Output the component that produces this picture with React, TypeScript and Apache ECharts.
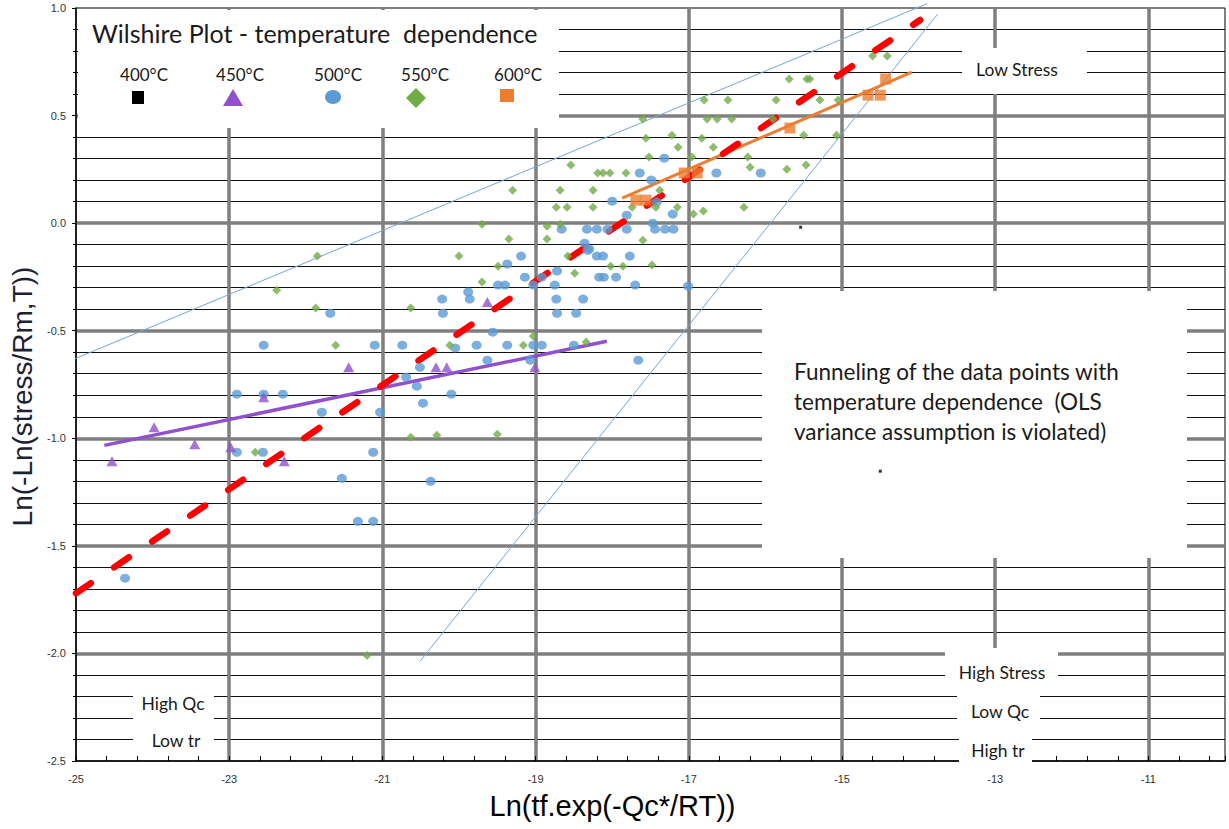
import React, { useEffect, useRef } from "react";
import * as echarts from "echarts";

// ---------- data ----------
const xTickValues = [-25, -23, -21, -19, -17, -15, -13, -11];
const yTickValues = [-2.5, -2.0, -1.5, -1.0, -0.5, 0.0, 0.5, 1.0];
const tempLabels = ["400°C", "450°C", "500°C", "550°C", "600°C"];

const data400: number[][] = [
  [-15.54, -0.019], [-14.5, -1.153],
];

const data450: number[][] = [
  [-24.53, -1.107], [-23.98, -0.949], [-23.45, -1.028], [-22.98, -1.042], [-22.55, -0.809],
  [-22.28, -1.107], [-21.44, -0.67], [-20.3, -0.67], [-20.16, -0.67], [-19.63, -0.367], [-19.01, -0.67],
];

const data500: number[][] = [
  [-24.36, -1.65], [-22.55, -0.567], [-22.9, -0.795], [-22.55, -0.795], [-22.3, -0.795],
  [-21.79, -0.879], [-21.68, -0.419], [-21.1, -0.567], [-20.74, -0.567], [-21.03, -0.879],
  [-20.69, -0.716], [-20.55, -0.758], [-20.51, -0.67], [-22.9, -1.065], [-22.56, -1.065],
  [-21.12, -1.065], [-21.53, -1.186], [-21.32, -1.386], [-21.12, -1.386], [-20.47, -0.837],
  [-20.1, -0.795], [-20.05, -0.58], [-20.37, -1.2], [-19.77, -0.567], [-19.63, -0.637],
  [-19.56, -0.507], [-19.37, -0.567], [-19.07, -0.637], [-19.03, -0.567], [-18.92, -0.567],
  [-18.5, -0.567], [-17.66, -0.637], [-17.01, -0.293], [-20.22, -0.353], [-20.21, -0.419],
  [-19.88, -0.32], [-19.86, -0.353], [-19.49, -0.288], [-19.4, -0.288], [-19.37, -0.19],
  [-19.19, -0.153], [-19.14, -0.251], [-19.03, -0.288], [-18.92, -0.251], [-18.75, -0.288],
  [-18.72, -0.223], [-18.73, -0.353], [-18.72, -0.419], [-18.47, -0.419], [-18.38, -0.353],
  [-18.32, -0.126], [-18.2, -0.153], [-18.12, -0.153], [-18.17, -0.251], [-18.11, -0.251],
  [-17.95, -0.251], [-17.77, -0.153], [-17.7, -0.288], [-18.66, -0.028], [-18.36, -0.093],
  [-18.33, -0.028], [-18.3, -0.12], [-18.2, -0.028], [-18.06, -0.028], [-18.0, 0.102],
  [-17.81, 0.037], [-17.81, -0.028], [-17.64, 0.233], [-17.49, 0.2], [-17.47, 0.0],
  [-17.44, -0.028], [-17.42, 0.098], [-17.31, -0.028], [-17.21, 0.042], [-17.32, 0.302],
  [-16.64, 0.233], [-16.06, 0.233], [-17.2, -0.028],
];

const data550: number[][] = [
  [-21.85, -0.153], [-22.38, -0.312], [-21.87, -0.395], [-21.61, -0.567], [-20.63, -0.395],
  [-22.66, -1.065], [-20.63, -0.995], [-20.12, -0.567], [-20.29, -0.986], [-20.0, -0.153],
  [-19.49, -0.2], [-19.7, -0.274], [-19.16, -0.567], [-19.03, -0.526], [-18.49, -0.233],
  [-18.58, -0.153], [-18.34, -0.553], [-18.02, -0.2], [-17.86, -0.2], [-17.48, -0.195],
  [-19.5, -0.981], [-19.7, -0.005], [-19.35, -0.074], [-19.3, 0.153], [-18.85, -0.014],
  [-18.85, -0.074], [-18.73, 0.074], [-18.68, 0.153], [-18.68, -0.005], [-18.59, 0.074],
  [-18.54, 0.27], [-18.25, 0.153], [-18.25, 0.074], [-18.19, 0.233], [-18.12, 0.233],
  [-18.03, 0.233], [-17.82, 0.233], [-17.6, 0.484], [-17.56, 0.395], [-17.52, 0.307],
  [-17.22, 0.409], [-17.14, 0.353], [-17.38, 0.153], [-17.74, 0.074], [-17.43, 0.074],
  [-17.6, -0.079], [-17.15, 0.074], [-16.96, 0.307], [-16.94, 0.042], [-16.81, 0.056],
  [-16.83, 0.395], [-16.8, 0.572], [-16.76, 0.484], [-16.68, 0.353], [-16.63, 0.484],
  [-16.49, 0.572], [-16.44, 0.484], [-16.28, 0.074], [-16.23, 0.307], [-16.2, 0.26],
  [-15.86, 0.572], [-15.9, 0.484], [-15.72, 0.251], [-15.69, 0.67], [-15.5, 0.409],
  [-15.47, 0.27], [-15.46, 0.67], [-15.42, 0.67], [-15.29, 0.572], [-15.05, 0.572],
  [-15.07, 0.409], [-14.6, 0.777], [-14.41, 0.777], [-21.2, -2.01],
];

const data600: number[][] = [
  [-17.69, 0.107], [-17.56, 0.107], [-17.06, 0.233], [-16.89, 0.233], [-15.68, 0.442],
  [-14.66, 0.595], [-14.5, 0.595], [-14.43, 0.67],
];

const overallFit: number[][] = [[-25, -1.72], [-13.98, 0.944]];
const fit450: number[][] = [[-24.63, -1.033], [-18.07, -0.549]];
const fit600: number[][] = [[-17.87, 0.116], [-14.09, 0.702]];
const funnelUpper: number[][] = [[-25.47, -0.698], [-13.89, 1.02]];
const funnelLower: number[][] = [[-20.51, -2.037], [-13.75, 0.972]];

// ---------- styles ----------
const C400 = "#000000";
const C450 = "#9150CC";
const C500 = "#5B9BD5";
const C550 = "#70AD47";
const C600 = "#ED7D31";
const GRAY = "#7f7f7f";
const NOTE_FONT = "Lato, 'Open Sans', sans-serif";
const AXIS_FONT = "'Liberation Sans', Arial, sans-serif";

function txt(x: number, y: number, text: string, size: number, align = "center") {
  return {
    type: "text",
    x,
    y,
    z: 3,
    style: {
      text,
      fill: "#1a1a1a",
      font: `${size}px ${NOTE_FONT}`,
      align,
      verticalAlign: "middle",
      textAlign: align,
      textVerticalAlign: "middle",
    },
  };
}

function whiteRect(x: number, y: number, w: number, h: number) {
  return {
    type: "rect",
    z: 1.5,
    shape: { x, y, width: w, height: h },
    style: { fill: "#ffffff" },
    silent: true,
  };
}

export default function App() {
  const ref = useRef<HTMLDivElement>(null);

  useEffect(() => {
    if (!ref.current) return;
    const chart = echarts.init(ref.current, null, { renderer: "svg" });

    const legendX = [138, 233, 333, 416, 507];
    const labelX = [144, 240, 338, 425, 518];

    const graphic: any[] = [
      whiteRect(78, 10, 481, 118),
      whiteRect(962, 48, 125, 46),
      whiteRect(762, 291, 425, 267),
      whiteRect(945, 648, 113, 38),
      whiteRect(957, 686, 83, 50),
      whiteRect(959, 736, 73, 30),
      whiteRect(133, 687, 81, 61),
      txt(92, 33, "Wilshire Plot - temperature  dependence", 25, "left"),
      ...tempLabels.map((t, i) => txt(labelX[i], 74, t, 17)),
      { type: "rect", z: 3, shape: { x: legendX[0] - 6, y: 91, width: 12, height: 13 }, style: { fill: C400 } },
      { type: "polygon", z: 3, shape: { points: [[legendX[1], 89], [legendX[1] + 10, 106], [legendX[1] - 10, 106]] }, style: { fill: C450 } },
      { type: "ellipse", z: 3, shape: { cx: legendX[2], cy: 97, rx: 8, ry: 7 }, style: { fill: C500 } },
      { type: "polygon", z: 3, shape: { points: [[legendX[3], 88], [legendX[3] + 10, 98], [legendX[3], 108], [legendX[3] - 10, 98]] }, style: { fill: C550 } },
      { type: "rect", z: 3, shape: { x: legendX[4] - 7, y: 89, width: 14, height: 13 }, style: { fill: C600 } },
      txt(1017, 69, "Low Stress", 17.5),
      txt(794, 371, "Funneling of the data points with", 22.5, "left"),
      txt(794, 401, "temperature dependence  (OLS", 22.5, "left"),
      txt(794, 431, "variance assumption is violated)", 22.5, "left"),
      txt(1002, 672, "High Stress", 17.5),
      txt(1000, 711, "Low Qc", 17.5),
      txt(998, 750, "High tr", 17.5),
      txt(173, 703, "High Qc", 17.5),
      txt(176, 740, "Low tr", 17.5),
    ];

    const lineSeries = (name: string, data: number[][], color: string, width: number, type: any = "solid", cap = "butt") => ({
      name,
      type: "line",
      data,
      symbol: "none",
      clip: false,
      z: 4,
      lineStyle: { color, width, type, cap },
      silent: true,
    });

    const option: any = {
      animation: false,
      backgroundColor: "#ffffff",
      grid: { left: 76, top: 8, right: 4, bottom: 68, show: true, borderColor: "#000", borderWidth: 1, backgroundColor: "transparent" },
      xAxis: {
        type: "value",
        min: -25,
        max: -10,
        interval: 2,
        z: 1,
        name: "Ln(tf.exp(-Qc*/RT))",
        nameLocation: "middle",
        nameGap: 30,
        nameTextStyle: { fontSize: 29, fontFamily: AXIS_FONT, color: "#000", padding: [0, 76, 0, 0] },
        axisLine: { show: true, onZero: false, lineStyle: { color: "#000", width: 1.5 } },
        axisTick: { show: true, inside: true, length: 5, lineStyle: { color: "#000" } },
        minorTick: { show: true, splitNumber: 5, length: 5, lineStyle: { color: "#000" } },
        axisLabel: {
          fontSize: 11,
          fontFamily: AXIS_FONT,
          color: "#333",
          margin: 12,
          showMaxLabel: false,
          formatter: (v: number) => (xTickValues.includes(v) ? String(v) : ""),
        },
        splitLine: { show: true, showMinLine: false, showMaxLine: false, lineStyle: { color: GRAY, width: 3.5 } },
      },
      yAxis: {
        type: "value",
        min: -2.5,
        max: 1.0,
        interval: 0.5,
        name: "Ln(-Ln(stress/Rm,T))",
        nameLocation: "middle",
        nameGap: 32,
        nameRotate: 90,
        nameTextStyle: { fontSize: 28, fontFamily: AXIS_FONT, color: "#1b2233", padding: [0, 24, 0, 0] },
        axisLine: { show: true, onZero: false, lineStyle: { color: "#000", width: 1.5 } },
        axisTick: { show: true, length: 4, lineStyle: { color: "#000" } },
        minorTick: { show: true, splitNumber: 5, length: 3, lineStyle: { color: "#000" } },
        axisLabel: {
          fontSize: 11,
          fontFamily: AXIS_FONT,
          color: "#333",
          margin: 10,
          formatter: (v: number) => (yTickValues.some((t) => Math.abs(t - v) < 1e-9) ? v.toFixed(1) : ""),
        },
        splitLine: { show: true, showMinLine: false, showMaxLine: false, lineStyle: { color: GRAY, width: 3.5 } },
        minorSplitLine: { show: true, lineStyle: { color: "#111", width: 1.2 } },
      },
      graphic,
      series: [
        lineSeries("Funnel upper", funnelUpper, "#6fa8dc", 1),
        lineSeries("Funnel lower", funnelLower, "#6fa8dc", 1),
        { name: tempLabels[0], type: "scatter", data: data400, symbol: "rect", symbolSize: 3, itemStyle: { color: C400 }, z: 5 },
        { name: tempLabels[2], type: "scatter", data: data500, symbol: "circle", symbolSize: [10, 9], itemStyle: { color: C500 }, z: 5 },
        { name: tempLabels[3], type: "scatter", data: data550, symbol: "diamond", symbolSize: 9, itemStyle: { color: C550 }, z: 5 },
        { name: tempLabels[1], type: "scatter", data: data450, symbol: "triangle", symbolSize: [11, 10], itemStyle: { color: C450 }, z: 5 },
        { name: tempLabels[4], type: "scatter", data: data600, symbol: "rect", symbolSize: 11, itemStyle: { color: C600 }, z: 5 },
        lineSeries("450°C fit", fit450, C450, 3.5),
        lineSeries("600°C fit", fit600, C600, 3),
        lineSeries("Overall fit", overallFit, "#ff0000", 6.5, [18, 28], "round"),
      ],
    };

    chart.setOption(option);
    return () => chart.dispose();
  }, []);

  return (
    <div
      ref={ref}
      style={{ position: "fixed", left: 0, top: 0, width: 1229, height: 829, background: "#fff" }}
    />
  );
}
